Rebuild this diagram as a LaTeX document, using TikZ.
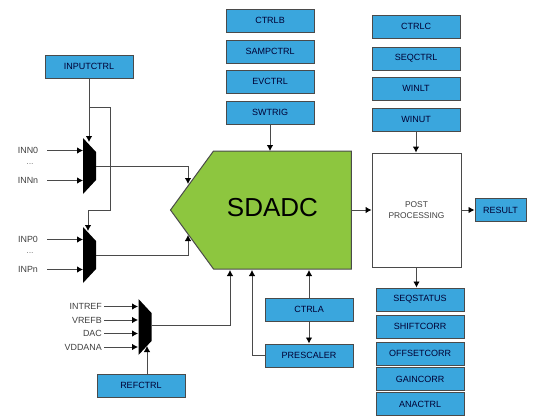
\documentclass[tikz,border=0pt]{standalone}
\usepackage{fontspec}
\setmainfont{Liberation Sans}
\usetikzlibrary{arrows.meta,shapes.symbols,positioning}
\definecolor{regblue}{HTML}{3AA6DD}
\definecolor{adcgreen}{HTML}{8DC63F}
\definecolor{linegray}{HTML}{4A4A4A}
\tikzset{
	regbox/.style={draw=linegray, line width=1pt, fill=regblue, minimum width=88pt, minimum height=23pt, inner sep=0pt, text=black!80!blue, font=\fontsize{9}{10}\selectfont},
	siglabel/.style={font=\fontsize{8.9}{10}\selectfont, text=black!75, inner sep=0pt},
	wire/.style={draw=linegray, line width=0.9pt},
	arrowwire/.style={wire, -{Latex[length=6pt,width=6.5pt,black]}},
}
\newcommand{\muxshape}[3]{%
	\coordinate (#1) at (#2,#3);
	\fill[black] ([shift={(-6.5,-28)}]#1) -- ([shift={(6.5,-14)}]#1) -- ([shift={(6.5,14)}]#1) -- ([shift={(-6.5,28)}]#1) -- cycle;
}
\begin{document}
\begin{tikzpicture}[x=1pt, y=-1pt]
	\useasboundingbox (0,0) rectangle (537,418);
	% ADC and post processing
	\node[signal, signal to=west, signal pointer angle=107.8, draw=linegray, line width=1pt, fill=adcgreen, minimum width=181pt, minimum height=118pt, inner sep=0pt] (sdadc) at (282.5,210) {};
	\node[font=\fontsize{26}{30}\selectfont, inner sep=0pt] (sdadclabel) at (272.5,208) {SDADC};
	\node[draw=linegray, line width=0.9pt, fill=white, minimum width=89pt, minimum height=114pt, inner sep=0pt, align=center, text=black!75, font=\fontsize{8.4}{11}\selectfont] (post) at (416.5,210) {POST\\PROCESSING};
	\node[regbox, minimum width=51pt] (result) at (500.5,210) {RESULT};
	% register boxes
	\node[regbox] (inputctrl) at (89,66.5) {INPUTCTRL};
	\node[regbox] (ctrlb) at (270,20.5) {CTRLB};
	\node[regbox] (sampctrl) at (270,51.5) {SAMPCTRL};
	\node[regbox] (evctrl) at (270,81.5) {EVCTRL};
	\node[regbox] (swtrig) at (270,112.5) {SWTRIG};
	\node[regbox] (ctrlc) at (416,26.5) {CTRLC};
	\node[regbox] (seqctrl) at (416,58.5) {SEQCTRL};
	\node[regbox] (winlt) at (416,88.5) {WINLT};
	\node[regbox] (winut) at (416,119.5) {WINUT};
	\node[regbox] (seqstatus) at (420,299.5) {SEQSTATUS};
	\node[regbox] (shiftcorr) at (420,326.5) {SHIFTCORR};
	\node[regbox] (offsetcorr) at (420,353.5) {OFFSETCORR};
	\node[regbox] (gaincorr) at (420,379) {GAINCORR};
	\node[regbox] (anactrl) at (420,404) {ANACTRL};
	\node[regbox] (ctrla) at (309,309.5) {CTRLA};
	\node[regbox] (prescaler) at (309,355.5) {PRESCALER};
	\node[regbox] (refctrl) at (141,385.5) {REFCTRL};
	% muxes
	\muxshape{muxn}{89.5}{166}
	\muxshape{muxp}{89.5}{255}
	\muxshape{muxref}{145}{327}
	% input labels
	\node[siglabel] (innz) at (28,150.5) {INN0};
	\node[siglabel, text=black!50] (inndots) at (30,164) {...};
	\node[siglabel] (innn) at (28,180.5) {INNn};
	\node[siglabel] (inpz) at (28,239.5) {INP0};
	\node[siglabel, text=black!50] (inpdots) at (30,253) {...};
	\node[siglabel] (inpn) at (28,269.5) {INPn};
	\node[siglabel, anchor=east] (intref) at (102,306.5) {INTREF};
	\node[siglabel, anchor=east] (vrefb) at (102,320) {VREFB};
	\node[siglabel, anchor=east] (dac) at (102,333.5) {DAC};
	\node[siglabel, anchor=east] (vddana) at (102,347) {VDDANA};
	% helper coordinates
	\coordinate (nbranch) at (89,107);
	\coordinate (nturn) at (110,107);
	\coordinate (pturn) at (110,210);
	\coordinate (pdrop) at (88,210);
	\coordinate (tipn) at (89,142);
	\coordinate (tipp) at (88,231);
	\coordinate (tipref) at (147,346);
	\coordinate (portn) at (188,184);
	\coordinate (portp) at (188,235);
	\coordinate (portref) at (230,270);
	\coordinate (portpre) at (252,270);
	\coordinate (portctrla) at (309,270);
	\coordinate (portsw) at (270,151);
	% connectors
	\draw[arrowwire] (inputctrl.south) -- (tipn);
	\draw[wire] (nbranch) -- (nturn) -- (pturn) -- (pdrop);
	\draw[arrowwire] (pdrop) -- (tipp);
	\foreach \name in {innz, innn, inpz, inpn}
		\draw[arrowwire] (\name.center) ++(19,0) -- ++(36,0);
	\foreach \name in {intref, vrefb, dac, vddana}
		\draw[arrowwire] (\name.east) ++(2,0) -- ++(34,0);
	\draw[arrowwire] (muxn) ++(6.5,0) -| (portn);
	\draw[arrowwire] (muxp) ++(6.5,0) -| (portp);
	\draw[arrowwire] (muxref) ++(6.5,-2) -| (portref);
	\draw[arrowwire] (refctrl.north -| tipref) -- (tipref);
	\draw[arrowwire] (swtrig.south) -- (portsw);
	\draw[arrowwire] (winut.south) -- (post.north -| winut.south);
	\draw[arrowwire] (sdadc.east) -- (post.west);
	\draw[arrowwire] (post.east) -- (result.west);
	\draw[arrowwire] (post.south) -- (seqstatus.north -| post.south);
	\draw[arrowwire] (ctrla.north -| portctrla) -- (portctrla);
	\draw[arrowwire] (ctrla.south) -- (prescaler.north);
	\draw[arrowwire] (prescaler.west) -| (portpre);
\end{tikzpicture}
\end{document}
